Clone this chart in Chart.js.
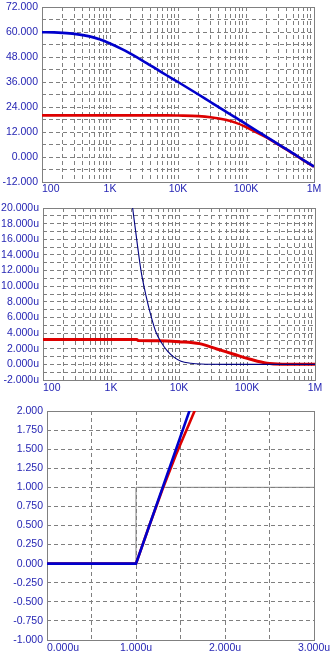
<!DOCTYPE html>
<html><head><meta charset="utf-8">
<script src="https://cdn.jsdelivr.net/npm/chart.js@4/dist/chart.umd.min.js"></script>
<style>
html,body{margin:0;padding:0;background:#fff;width:336px;height:660px;overflow:hidden;position:relative}
canvas{position:absolute;left:0}
#c1{top:0}#c2{top:200px}#c3{top:400px}
</style></head><body>
<canvas id="c1" width="336" height="200" style="width:336px;height:200px"></canvas>
<canvas id="c2" width="336" height="195" style="width:336px;height:195px"></canvas>
<canvas id="c3" width="336" height="260" style="width:336px;height:260px"></canvas>
<script>
// ---------- Chart 1: gain (dB) vs frequency ----------
const FREQ_MAG = [100,150,200,300,500,700,1000,1500,2000,3000,5000,7000,10000,20000,30000,50000,70000,100000,150000,200000,300000,500000,700000,1000000];
const GAIN_OPEN = [59.9,59.8,59.6,59.1,57.9,56.5,54.5,51.8,49.6,46.3,41.9,39.0,36.0,30.0,26.4,21.9,19.0,15.8,12.2,9.7,6.1,1.6,-1.5,-4.6];
const GAIN_CLOSED = [20.0,20.0,20.0,20.0,20.0,20.0,20.0,20.0,20.0,20.0,20.0,20.0,19.9,19.6,19.1,17.9,16.5,14.4,11.5,9.4,5.9,1.5,-1.6,-4.6];
const MAG_Y_GRID = [-12,-6,0,6,12,18,24,30,36,42,48,54,60,66,72];
const MAG_Y_LABEL_STEP = 12;

// ---------- Chart 2: noise (u) vs frequency ----------
const FREQ_NOISE_A = [100,2400,2500,5000,10000,20000,36000,64000,112000,196000,346000,1000000];
const NOISE_A = [3.17,3.17,3.05,3.03,2.9,2.65,1.97,1.29,0.65,0.14,0.02,0.0];
const FREQ_NOISE_B = [2080,2470,2760,3270,3870,4590,5440,6820,8500,10700,15000,21000,50000,1000000];
const NOISE_B = [20.0,15.0,12.0,8.8,6.2,4.1,2.85,1.65,0.9,0.4,0.15,0.05,0.0,0.0];
const NOISE_Y_GRID = [-2,-1,0,1,2,3,4,5,6,7,8,9,10,11,12,13,14,15,16,17,18,19,20];
const NOISE_Y_LABEL_STEP = 2;

// shared log frequency axis labels
const FREQ_LABEL_VALUES = [100,1000,10000,100000,1000000];
const FREQ_LABELS = ['100','1K','10K','100K','1M'];

// ---------- Chart 3: transient ----------
const T_IN = [0,1,1,3];
const V_IN = [0,0,1,1];
const T_OUT_A = [0,1,1.66];
const V_OUT_A = [0,0,2.2];
const T_OUT_B = [0,1,1.15,1.3,1.45,1.6,1.72];
const V_OUT_B = [0,0,0.5,0.98,1.43,1.84,2.17];
const TR_Y_GRID = [-1,-0.75,-0.5,-0.25,0,0.25,0.5,0.75,1,1.25,1.5,1.75,2];
const TR_X_GRID = [0,0.5,1,1.5,2,2.5,3];
const TR_X_LABEL_VALUES = [0,1,2,3];
const TR_X_LABELS = ['0.000u','1.000u','2.000u','3.000u'];

// log grid positions (1..9 per decade)
const LOG_GRID = [];
for (let d = 100; d < 1000000; d *= 10) for (let m = 1; m < 10; m++) LOG_GRID.push(d * m);
LOG_GRID.push(1000000);

const LABEL_COLOR = '#2626b4';
const GRID_COLOR = '#7f7f7f';
const FRAME_COLOR = '#808080';
const FONT_FAMILY = "'Liberation Sans', Arial, Helvetica, sans-serif";
const FONT_SIZE = 10.5;

Chart.defaults.font.family = FONT_FAMILY;
Chart.defaults.font.size = FONT_SIZE;
Chart.defaults.color = LABEL_COLOR;

const pts = (xs, ys) => xs.map((x, i) => ({x: x, y: ys[i]}));

const framePlugin = {
  id: 'frameAndXLabels',
  beforeDatasetsDraw(chart) {
    const {ctx, chartArea: a} = chart;
    ctx.save();
    ctx.strokeStyle = FRAME_COLOR;
    ctx.lineWidth = 1;
    ctx.setLineDash([]);
    ctx.strokeRect(Math.round(a.left) + 0.5, Math.round(a.top) + 0.5, Math.round(a.right - a.left), Math.round(a.bottom - a.top));
    ctx.restore();
  },
  afterDraw(chart) {
    const o = chart.options.plugins.frameAndXLabels;
    if (!o) return;
    const {ctx, chartArea: a} = chart;
    const xs = chart.scales.x;
    ctx.save();
    ctx.font = FONT_SIZE + 'px ' + FONT_FAMILY;
    ctx.fillStyle = LABEL_COLOR;
    ctx.textBaseline = 'middle';
    o.values.forEach((v, i) => {
      const px = xs.getPixelForValue(v);
      ctx.textAlign = i === 0 ? 'left' : 'center';
      ctx.fillText(o.labels[i], px, a.bottom + o.dy);
    });
    ctx.restore();
  }
};

function makeChart(id, cfg) {
  const canvas = document.getElementById(id);
  const W = canvas.width, H = canvas.height;
  const A = cfg.area;
  return new Chart(canvas, {
    type: 'line',
    data: {datasets: cfg.datasets},
    options: {
      responsive: false,
      animation: false,
      devicePixelRatio: 1,
      events: [],
      layout: {padding: {left: 0, top: A.top, right: W - A.right, bottom: 0}},
      plugins: {
        legend: {display: false},
        tooltip: {enabled: false},
        frameAndXLabels: {values: cfg.xLabelValues, labels: cfg.xLabels, dy: cfg.labelDy}
      },
      elements: {point: {radius: 0}},
      scales: {
        x: {
          type: cfg.xType, min: cfg.xMin, max: cfg.xMax,
          afterBuildTicks: s => { s.ticks = cfg.xGrid.map(v => ({value: v})); },
          afterFit: s => { s.height = H - A.bottom; s.paddingLeft = 0; s.paddingRight = 0; },
          ticks: {display: false},
          grid: {color: GRID_COLOR, lineWidth: 1, drawTicks: false},
          border: {display: false, dash: [4, 3]}
        },
        y: {
          type: 'linear', min: cfg.yMin, max: cfg.yMax,
          afterBuildTicks: s => { s.ticks = cfg.yGrid.map(v => ({value: v})); },
          afterFit: s => { s.width = A.left; s.paddingTop = 0; s.paddingBottom = 0; },
          ticks: {padding: 4, color: LABEL_COLOR, autoSkip: false, callback: cfg.yLabel},
          grid: {color: GRID_COLOR, lineWidth: 1, drawTicks: false},
          border: {display: false, dash: [4, 3]}
        }
      }
    },
    plugins: [framePlugin]
  });
}

makeChart('c1', {
  area: {left: 42, top: 7, right: 314, bottom: 182},
  labelDy: 7.5,
  xType: 'logarithmic', xMin: 100, xMax: 1000000, xGrid: LOG_GRID,
  xLabelValues: FREQ_LABEL_VALUES, xLabels: FREQ_LABELS,
  yMin: -12, yMax: 72, yGrid: MAG_Y_GRID,
  yLabel: v => (v % MAG_Y_LABEL_STEP === 0 ? v.toFixed(3) : ''),
  datasets: [
    {data: pts(FREQ_MAG, GAIN_OPEN), borderColor: '#0000cc', borderWidth: 2.6, cubicInterpolationMode: 'monotone', fill: false},
    {data: pts(FREQ_MAG, GAIN_CLOSED), borderColor: '#dd0000', borderWidth: 2.6, cubicInterpolationMode: 'monotone', fill: false}
  ]
});

makeChart('c2', {
  area: {left: 43, top: 8, right: 315, bottom: 180},
  labelDy: 8,
  xType: 'logarithmic', xMin: 100, xMax: 1000000, xGrid: LOG_GRID,
  xLabelValues: FREQ_LABEL_VALUES, xLabels: FREQ_LABELS,
  yMin: -2, yMax: 20, yGrid: NOISE_Y_GRID,
  yLabel: v => (v % NOISE_Y_LABEL_STEP === 0 ? v.toFixed(3) + 'u' : ''),
  datasets: [
    {data: pts(FREQ_NOISE_B, NOISE_B), borderColor: '#000080', borderWidth: 1.1, cubicInterpolationMode: 'monotone', fill: false},
    {data: pts(FREQ_NOISE_A, NOISE_A), borderColor: '#dd0000', borderWidth: 3, cubicInterpolationMode: 'monotone', fill: false}
  ]
});

makeChart('c3', {
  area: {left: 47, top: 11, right: 314, bottom: 240},
  labelDy: 8,
  xType: 'linear', xMin: 0, xMax: 3, xGrid: TR_X_GRID,
  xLabelValues: TR_X_LABEL_VALUES, xLabels: TR_X_LABELS,
  yMin: -1, yMax: 2, yGrid: TR_Y_GRID,
  yLabel: v => v.toFixed(3),
  datasets: [
    {data: pts(T_OUT_A, V_OUT_A), borderColor: '#0000cc', borderWidth: 2.6, tension: 0, fill: false, clip: 0},
    {data: pts(T_OUT_B, V_OUT_B), borderColor: '#dd0000', borderWidth: 2.6, tension: 0, fill: false, clip: 0},
    {data: pts(T_IN, V_IN), borderColor: '#808080', borderWidth: 1, tension: 0, fill: false, clip: 0}
  ]
});
</script>
</body></html>
